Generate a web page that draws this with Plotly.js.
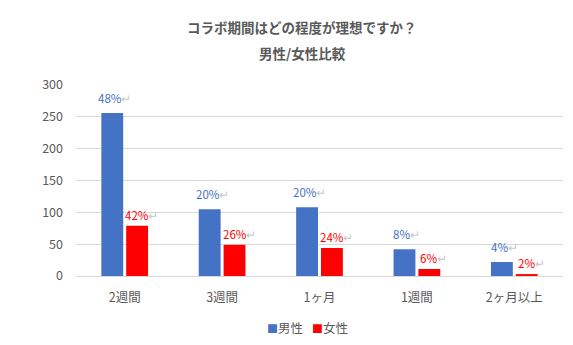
<!DOCTYPE html>
<html><head><meta charset="utf-8">
<script src="https://cdn.plot.ly/plotly-3.0.1.min.js"></script>
<style>html,body{margin:0;padding:0;background:#fff;}#chart{width:573px;height:345px;}</style>
</head><body><div id="chart"></div>
<script>
const categories = ['2週間','3週間','1ヶ月','1週間','2ヶ月以上'];
const maleValues = [256, 105, 108, 42, 22];
const femaleValues = [79, 49, 44, 11, 3];
const maleLabels = ['48%','20%','20%','8%','4%'];
const femaleLabels = ['42%','26%','24%','6%','2%'];
const seriesNames = ['男性','女性'];
const titleLines = ['コラボ期間はどの程度が理想ですか？','男性/女性比較'];

const FONT = '"Noto Sans CJK JP", "Noto Sans", sans-serif';
const BLUE = '#4472C4', RED = '#FF0000';
const COLORS = [BLUE, RED];
const mark = '<span style="color:#c8c8c8">↵</span>';

const traces = [
  {type:'bar', name:seriesNames[0], x:categories, y:maleValues, marker:{color:BLUE}, hoverinfo:'none', showlegend:false},
  {type:'bar', name:seriesNames[1], x:categories, y:femaleValues, marker:{color:RED}, hoverinfo:'none', showlegend:false}
];

const annotations = [];
categories.forEach((c,i)=>{
  annotations.push({x:c, y:maleValues[i], xref:'x', yref:'y', text:maleLabels[i]+mark, showarrow:false,
    xshift:-10, yshift:15, font:{family:FONT,size:11.5,color:BLUE}});
  annotations.push({x:c, y:femaleValues[i], xref:'x', yref:'y', text:femaleLabels[i]+mark, showarrow:false,
    xshift:17, yshift:11, font:{family:FONT,size:11.5,color:RED}});
});
annotations.push({xref:'paper', yref:'paper', x:0.465, y:(276-27)/191, yanchor:'middle', text:'<b>'+titleLines[0]+'</b>', showarrow:false,
  font:{family:FONT,size:13.5,color:'#595959'}});
annotations.push({xref:'paper', yref:'paper', x:0.465, y:(276-53)/191, yanchor:'middle', text:'<b>'+titleLines[1]+'</b>', showarrow:false,
  font:{family:FONT,size:13.5,color:'#595959'}});
// legend drawn as text items
const legendX = [0.429, 0.522];
seriesNames.forEach((n,i)=>{
  annotations.push({xref:'paper', yref:'paper', x:legendX[i], y:-(327-276)/191, yanchor:'middle',
    text:'<span style="color:'+COLORS[i]+';font-size:11px">■</span>'+n, showarrow:false,
    font:{family:FONT,size:12.5,color:'#595959'}});
});

const layout = {
  width:573, height:345,
  margin:{l:76, r:10, t:85, b:69},
  paper_bgcolor:'#fff', plot_bgcolor:'#fff',
  font:{family:FONT, size:12, color:'#595959'},
  barmode:'group', bargap:0.49, bargroupgap:0.12,
  showlegend:false,
  xaxis:{showgrid:false, showline:false, ticks:'', ticklabelstandoff:12, tickfont:{family:FONT,size:12.5,color:'#595959'}, fixedrange:true},
  yaxis:{range:[0,300], dtick:50, showgrid:true, gridcolor:'#d9d9d9', gridwidth:1, zeroline:true, zerolinecolor:'#d9d9d9', zerolinewidth:1,
    showline:false, ticks:'', ticklabelstandoff:12, tickfont:{family:FONT,size:12.5,color:'#595959'}, fixedrange:true},
  annotations:annotations
};
Plotly.newPlot('chart', traces, layout, {displayModeBar:false, staticPlot:true});
</script></body></html>
